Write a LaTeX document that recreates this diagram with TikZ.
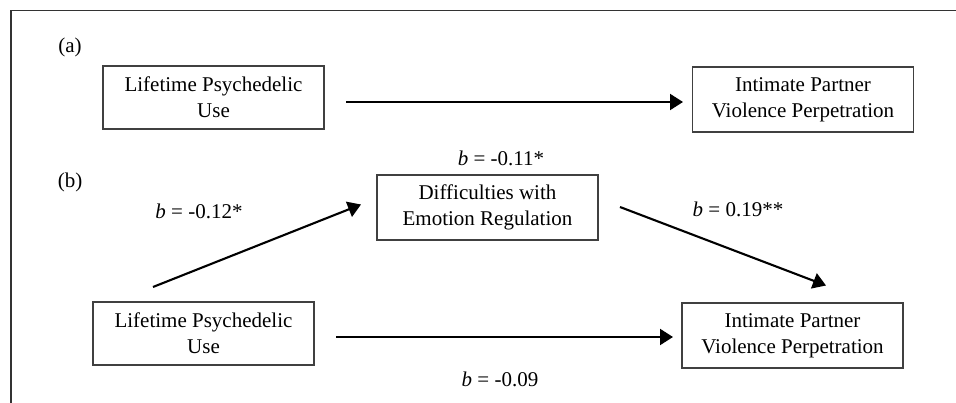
\documentclass[tikz,border=0pt]{standalone}
\usepackage{fontspec}
\setmainfont{Liberation Serif}
\usetikzlibrary{arrows.meta}
\begin{document}
\begin{tikzpicture}[x=1pt,y=-1pt,
  varbox/.style={draw=black!75,line width=1.1pt,rectangle,minimum width=221pt,minimum height=64pt,inner sep=0pt,align=center,font=\fontsize{21}{26}\selectfont},
  lbl/.style={inner sep=0pt,font=\fontsize{21}{25}\selectfont},
  arr/.style={line width=2.1pt,-{Triangle[length=13pt,width=16pt]}},
  frame/.style={draw=black!80,line width=1.8pt}]
\useasboundingbox (0,0) rectangle (956,403);
\draw[frame] (11,403) -- (11,10.5) -- (956,10.5);
\node[lbl] (la) at (70,47) {(a)};
\node[lbl] (lb) at (70,182) {(b)};
% panel a
\node[varbox,minimum height=63pt] (A1) at (213.5,97.5) {Lifetime Psychedelic\\Use};
\node[varbox,minimum height=65pt] (A2) at (803,99.5) {Intimate Partner\\Violence Perpetration};
\coordinate (a1) at (346,102);
\coordinate (a2) at (683,102);
\draw[arr] (a1) -- (a2);
\node[lbl] (ba) at (501,158) {\textit{b} = -0.11*};
% panel b
\node[varbox,minimum height=65pt] (D) at (487.5,207.5) {Difficulties with\\Emotion Regulation};
\node[varbox,minimum height=63pt] (B1) at (203.5,333.5) {Lifetime Psychedelic\\Use};
\node[varbox,minimum height=65pt] (B2) at (792.5,335.5) {Intimate Partner\\Violence Perpetration};
\coordinate (u1) at (153,287);
\coordinate (u2) at (361,204.5);
\coordinate (d1) at (620,207);
\coordinate (d2) at (826,285.5);
\coordinate (c1) at (336,337);
\coordinate (c2) at (673,337);
\draw[arr] (u1) -- (u2);
\draw[arr] (d1) -- (d2);
\draw[arr] (c1) -- (c2);
\node[lbl] (bu) at (199,211) {\textit{b} = -0.12*};
\node[lbl] (bd) at (738,209) {\textit{b} = 0.19**};
\node[lbl] (bc) at (500,379) {\textit{b} = -0.09};
\end{tikzpicture}
\end{document}
